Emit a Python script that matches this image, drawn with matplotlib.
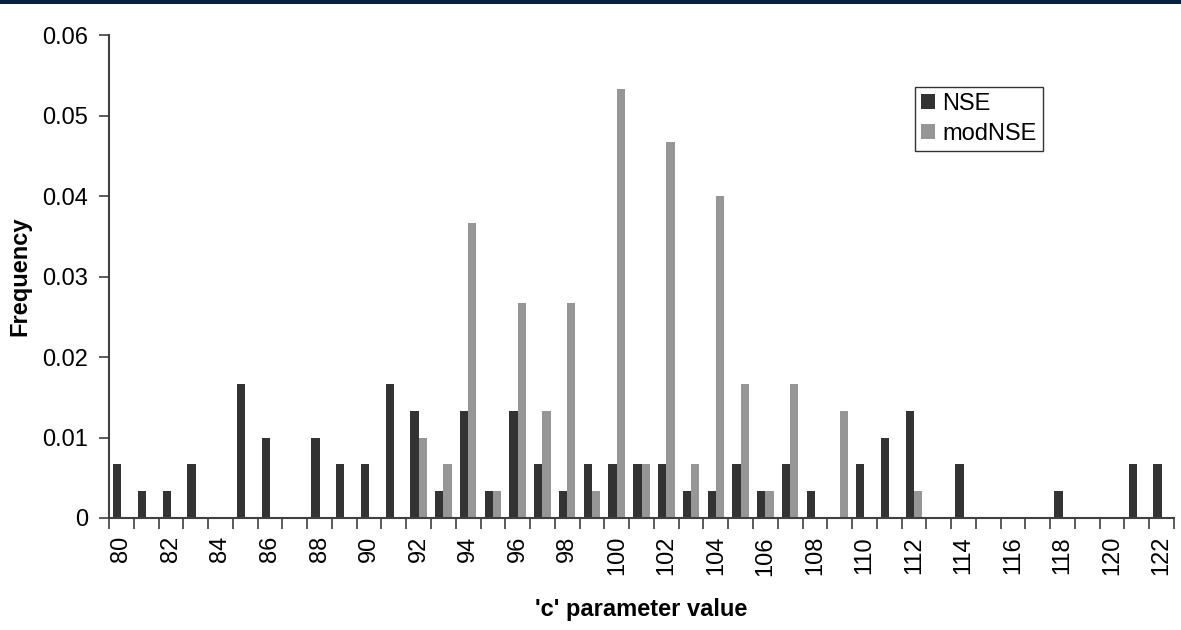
import numpy as np
import matplotlib
matplotlib.use("Agg")
import matplotlib.pyplot as plt
from matplotlib.patches import Rectangle
from matplotlib.ticker import FixedLocator, FuncFormatter

plt.rcParams["font.family"] = ["Liberation Sans", "DejaVu Sans"]

# -------------------- Data --------------------
c_values = list(range(80, 123))
nse = [
    0.0067, 0.0033, 0.0033, 0.0067, 0.0, 0.0167, 0.01, 0.0, 0.01, 0.0067,
    0.0067, 0.0167, 0.0133, 0.0033, 0.0133, 0.0033, 0.0133, 0.0067, 0.0033, 0.0067,
    0.0067, 0.0067, 0.0067, 0.0033, 0.0033, 0.0067, 0.0033, 0.0067, 0.0033, 0.0,
    0.0067, 0.01, 0.0133, 0.0, 0.0067, 0.0, 0.0, 0.0, 0.0033, 0.0,
    0.0, 0.0067, 0.0067,
]
mod_nse = [
    0.0, 0.0, 0.0, 0.0, 0.0, 0.0, 0.0, 0.0, 0.0, 0.0,
    0.0, 0.0, 0.01, 0.0067, 0.0367, 0.0033, 0.0267, 0.0133, 0.0267, 0.0033,
    0.0533, 0.0067, 0.0467, 0.0067, 0.04, 0.0167, 0.0033, 0.0167, 0.0, 0.0133,
    0.0, 0.0, 0.0033, 0.0, 0.0, 0.0, 0.0, 0.0, 0.0, 0.0,
    0.0, 0.0, 0.0,
]
y_ticks = [0, 0.01, 0.02, 0.03, 0.04, 0.05, 0.06]

# -------------------- Plot --------------------
fig = plt.figure(figsize=(11.81, 6.30), dpi=100)
ax = fig.add_axes([0.0923, 0.1778, 0.9018, 0.7659])

# dark band along the top edge
fig.patches.append(
    Rectangle((0, 1 - 4 / 630), 1, 4 / 630, transform=fig.transFigure,
              facecolor="#0b2041", edgecolor="none")
)

x = np.arange(len(c_values))
w = 1 / 3
ax.bar(x - w / 2, nse, width=w, color="#333333", label="NSE", linewidth=0)
ax.bar(x + w / 2, mod_nse, width=w, color="#969696", label="modNSE", linewidth=0)

ax.set_xlim(-0.5, len(c_values) - 0.5)
ax.set_ylim(0, 0.06)

ax.xaxis.set_major_locator(FixedLocator(x[::2]))
ax.set_xticklabels([str(c) for c in c_values[::2]], rotation=90)
ax.xaxis.set_minor_locator(FixedLocator(np.arange(len(c_values) + 1) - 0.5))
ax.tick_params(axis="x", which="major", length=0, pad=13, labelsize=17)
ax.tick_params(axis="x", which="minor", length=8, width=1.2, color="#404040",
               direction="out")

ax.set_yticks(y_ticks)
ax.yaxis.set_major_formatter(FuncFormatter(lambda v, p: "0" if v == 0 else f"{v:.2f}"))
ax.tick_params(axis="y", length=7, width=1.2, color="#404040", pad=8, labelsize=17)

for side in ["top", "right"]:
    ax.spines[side].set_visible(False)
for side in ["left", "bottom"]:
    ax.spines[side].set_color("#404040")
    ax.spines[side].set_linewidth(1.5)

ax.set_xlabel("'c' parameter value", fontsize=17, fontweight="bold", labelpad=16)
ax.set_ylabel("Frequency", fontsize=17, fontweight="bold", labelpad=8)

leg = ax.legend(loc="upper left", bbox_to_anchor=(0.757, 0.893), fontsize=17,
                borderaxespad=0, frameon=True, fancybox=False, edgecolor="black",
                handlelength=0.6, handleheight=0.6, handletextpad=0.3,
                borderpad=0.25, labelspacing=0.35)
leg.get_frame().set_linewidth(1.0)

fig.savefig("out.png", dpi=100)
